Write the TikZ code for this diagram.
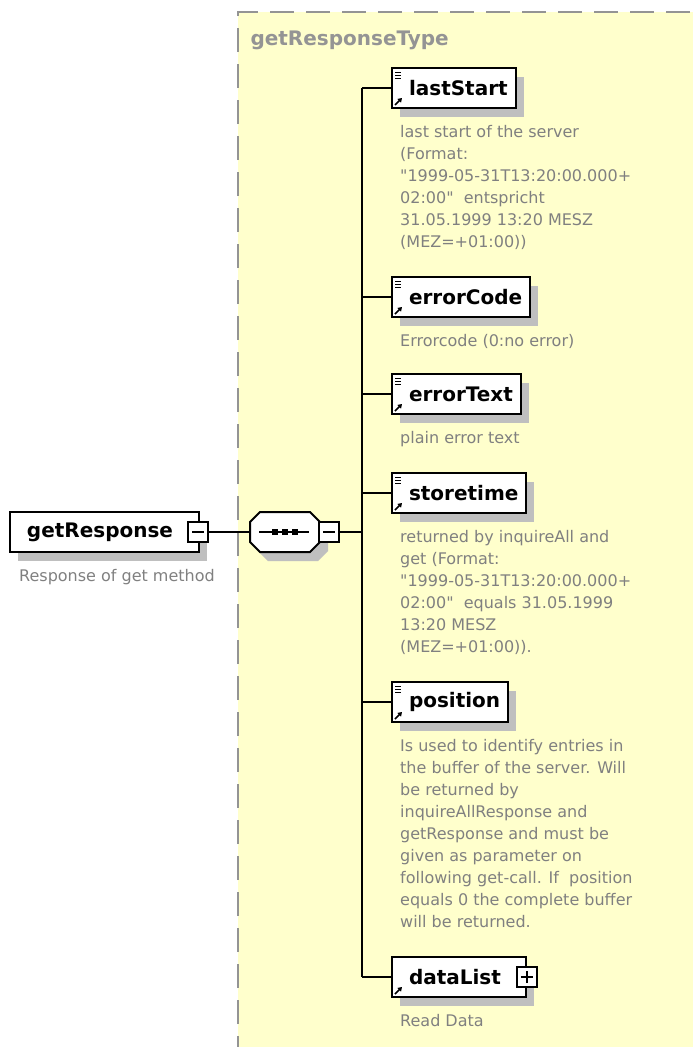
\documentclass[tikz,border=0pt]{standalone}
\usepackage{fontspec}
\setmainfont{DejaVu Sans}
\usetikzlibrary{positioning, arrows.meta, shadows}
\definecolor{fondtype}{RGB}{255,255,204}
\definecolor{bordtype}{gray}{0.58}
\definecolor{txtdoc}{gray}{0.5}
\definecolor{ombre}{gray}{0.75}

\tikzset{
  elem/.style={draw=black, line width=2pt, fill=white, anchor=west,
    minimum height=40pt, inner xsep=8pt, inner ysep=0pt,
    font=\fontsize{20}{24}\selectfont\bfseries,
    drop shadow={shadow xshift=8pt, shadow yshift=-9pt, fill=ombre, opacity=1}},
  doc/.style={text=txtdoc, font=\fontsize{16}{22}\selectfont, align=left,
    inner sep=0pt, anchor=north west},
  pmbox/.style={draw=black, line width=1.5pt, fill=white, minimum size=20pt,
    inner sep=0pt},
  conn/.style={black, line width=2pt},
}
% petites icones d'un element : lignes de doc + fleche de reference
\newcommand{\iconesElem}[2]{%
  \ifnum#2=1
    \foreach \dy in {5,8,11}
      \draw[line width=1pt] ([xshift=4pt, yshift=-\dy*1pt]#1.north west) -- ++(6pt,0);
  \fi
  \draw[line width=1.6pt, -{Triangle[length=4pt,width=5pt]}]
    ([xshift=4pt, yshift=4pt]#1.south west) -- ++(7pt,7pt);
}
% octogone de la sequence, autour d'un noeud
\newcommand{\octogone}[2]{%
  ([xshift=10pt]#1.north west) -- ([xshift=-10pt]#1.north east)
  -- ([yshift=-10pt]#1.north east) -- ([yshift=10pt]#1.south east)
  -- ([xshift=-10pt]#1.south east) -- ([xshift=10pt]#1.south west)
  -- ([yshift=10pt]#1.south west) -- ([yshift=-10pt]#1.north west) -- cycle
}

\begin{document}
\begin{tikzpicture}[x=1pt, y=-1pt]
  \useasboundingbox (0,0) rectangle (693,1047);

  % --- zone du type complexe -------------------------------------------
  \fill[fondtype] (238,12) rectangle (700,1060);
  \draw[bordtype, line width=2pt, dash pattern=on 24pt off 12pt]
    (238,1060) -- (238,12) -- (700,12);
  \node[text=bordtype, font=\fontsize{20}{24}\selectfont\bfseries, anchor=west]
    (typeName) at (247,40) {getResponseType};

  % --- element racine ---------------------------------------------------
  \node[elem] (resp) at (9,532) {\hspace*{9pt}getResponse\hspace*{18pt}};
  \node[pmbox] (respMinus) at ([xshift=-2pt]resp.east) {};
  \draw[line width=1.5pt] ([xshift=-6pt]respMinus.center) -- ([xshift=6pt]respMinus.center);
  \node[doc, below right=16pt and 10pt of resp.south west] (respDoc)
    {Response of get method};

  % --- sequence ---------------------------------------------------------
  \node[minimum width=70pt, minimum height=40pt, inner sep=0pt, outer sep=0pt]
    (seq) at (285,532) {};
  \begin{scope}[transform canvas={xshift=8pt, yshift=-9pt}]
    \fill[ombre] \octogone{seq}{};
  \end{scope}
  \draw[black, line width=2pt, fill=white] \octogone{seq}{};
  \draw[line width=1.5pt] ([xshift=-26pt]seq.center) -- ([xshift=24pt]seq.center);
  \foreach \dx in {-10,0,10}
    \fill ([xshift=\dx*1pt]seq.center) ++(-3pt,-3pt) rectangle ++(6pt,6pt);
  \node[pmbox] (seqMinus) at ([xshift=9pt]seq.east) {};
  \draw[line width=1.5pt] ([xshift=-6pt]seqMinus.center) -- ([xshift=6pt]seqMinus.center);

  % --- elements enfants -------------------------------------------------
  \node[elem] (lastStart) at (391,88) {\hspace*{9pt}lastStart};
  \node[elem] (errorCode) at (391,297) {\hspace*{9pt}errorCode};
  \node[elem] (errorText) at (391,394) {\hspace*{9pt}errorText};
  \node[elem] (storetime) at (391,493) {\hspace*{9pt}storetime};
  \node[elem] (position) at (391,702) {\hspace*{9pt}position};
  \node[elem] (dataList) at (391,977) {\hspace*{9pt}dataList\hspace*{17pt}};
  \node[pmbox] (dataPlus) at (dataList.east) {};
  \draw[line width=1.5pt] ([xshift=-6pt]dataPlus.center) -- ([xshift=6pt]dataPlus.center);
  \draw[line width=1.5pt] ([yshift=-6pt]dataPlus.center) -- ([yshift=6pt]dataPlus.center);

  \foreach \n in {lastStart, errorCode, errorText, storetime, position}
    \iconesElem{\n}{1};
  \iconesElem{dataList}{0};

  % --- documentation ----------------------------------------------------
  \node[doc, below right=16pt and 9pt of lastStart.south west] (lastStartDoc)
    {last start of the server\\(Format:\\\textquotedbl 1999-05-31T13:20:00.000+\\02:00\textquotedbl~ entspricht\\31.05.1999 13:20 MESZ\\(MEZ=+01:00))};
  \node[doc, below right=16pt and 9pt of errorCode.south west] (errorCodeDoc)
    {Errorcode (0:no error)};
  \node[doc, below right=16pt and 9pt of errorText.south west] (errorTextDoc)
    {plain error text};
  \node[doc, below right=16pt and 9pt of storetime.south west] (storetimeDoc)
    {returned by inquireAll and\\get (Format:\\\textquotedbl 1999-05-31T13:20:00.000+\\02:00\textquotedbl~ equals 31.05.1999\\13:20 MESZ\\(MEZ=+01:00)).};
  \node[doc, below right=16pt and 9pt of position.south west] (positionDoc)
    {Is used to identify entries in\\the buffer of the server. Will\\be returned by\\inquireAllResponse and\\getResponse and must be\\given as parameter on\\following get-call. If~ position\\equals 0 the complete buffer\\will be returned.};
  \node[doc, below right=16pt and 9pt of dataList.south west] (dataListDoc)
    {Read Data};

  % --- connecteurs ------------------------------------------------------
  \coordinate (trunkTop) at (362,88);
  \coordinate (trunkBot) at (362,977);
  \draw[conn] (respMinus.east) -- (seq.west);
  \draw[conn] (seqMinus.east) -- (trunkTop |- seqMinus.east);
  \draw[conn] (trunkTop) -- (trunkBot);
  \foreach \n in {lastStart, errorCode, errorText, storetime, position, dataList}
    \draw[conn] (trunkTop |- \n.west) -- (\n.west);
\end{tikzpicture}
\end{document}
